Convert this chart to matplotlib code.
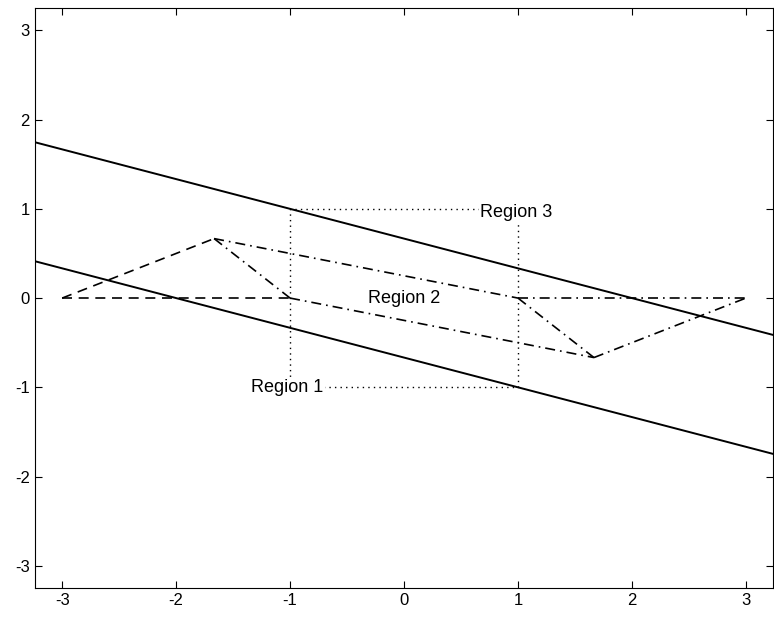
import matplotlib
matplotlib.use("Agg")
import matplotlib.pyplot as plt
import numpy as np

plt.rcParams['font.family'] = ['Liberation Sans', 'DejaVu Sans']
plt.rcParams['axes.unicode_minus'] = False

# boundary lines y = -x/3 +/- 2/3
line_x = [-3.25, 3.25]
upper_line = [-x / 3 + 2 / 3 for x in line_x]
lower_line = [-x / 3 - 2 / 3 for x in line_x]

# dashed segments (left side)
dashed_segs = [
    ([-3, -5 / 3], [0, 2 / 3]),
    ([-3, -1], [0, 0]),
]
# dash-dot segments
dashdot_segs = [
    ([-5 / 3, -1], [2 / 3, 0]),
    ([-5 / 3, 1], [2 / 3, 0]),
    ([-1, 5 / 3], [0, -2 / 3]),
    ([1, 5 / 3], [0, -2 / 3]),
    ([5 / 3, 3], [-2 / 3, 0]),
    ([1, 3], [0, 0]),
]
# dotted box
box_x = [-1, 1, 1, -1, -1]
box_y = [-1, -1, 1, 1, -1]

labels = ['Region 1', 'Region 2', 'Region 3']
label_x = [-1.34, -0.32, 0.67]
label_y = [-1, 0, 0.96]

fig = plt.figure(figsize=(7.74, 6.21), dpi=100)
ax = fig.add_axes([0.045, 0.053, 0.954, 0.934])

ax.plot(line_x, upper_line, 'k-', lw=1.4)
ax.plot(line_x, lower_line, 'k-', lw=1.4)
for xs, ys in dashed_segs:
    ax.plot(xs, ys, 'k', ls=(0, (6, 4)), lw=1.2)
for xs, ys in dashdot_segs:
    ax.plot(xs, ys, 'k', ls=(0, (6, 3, 1, 3)), lw=1.2)
ax.plot(box_x, box_y, 'k', ls=(0, (1, 3)), lw=1.0)

for t, x, y in zip(labels, label_x, label_y):
    ax.text(x, y, t, ha='left', va='center', fontsize=13,
            bbox=dict(facecolor='white', edgecolor='none', pad=1))

ax.set_xlim(-3.24, 3.24)
ax.set_ylim(-3.25, 3.25)
ax.set_xticks(np.arange(-3, 4))
ax.set_yticks(np.arange(-3, 4))
ax.tick_params(direction='in', top=True, right=True, length=5, labelsize=12)
for s in ax.spines.values():
    s.set_linewidth(0.8)

fig.savefig('out.png', dpi=100)
